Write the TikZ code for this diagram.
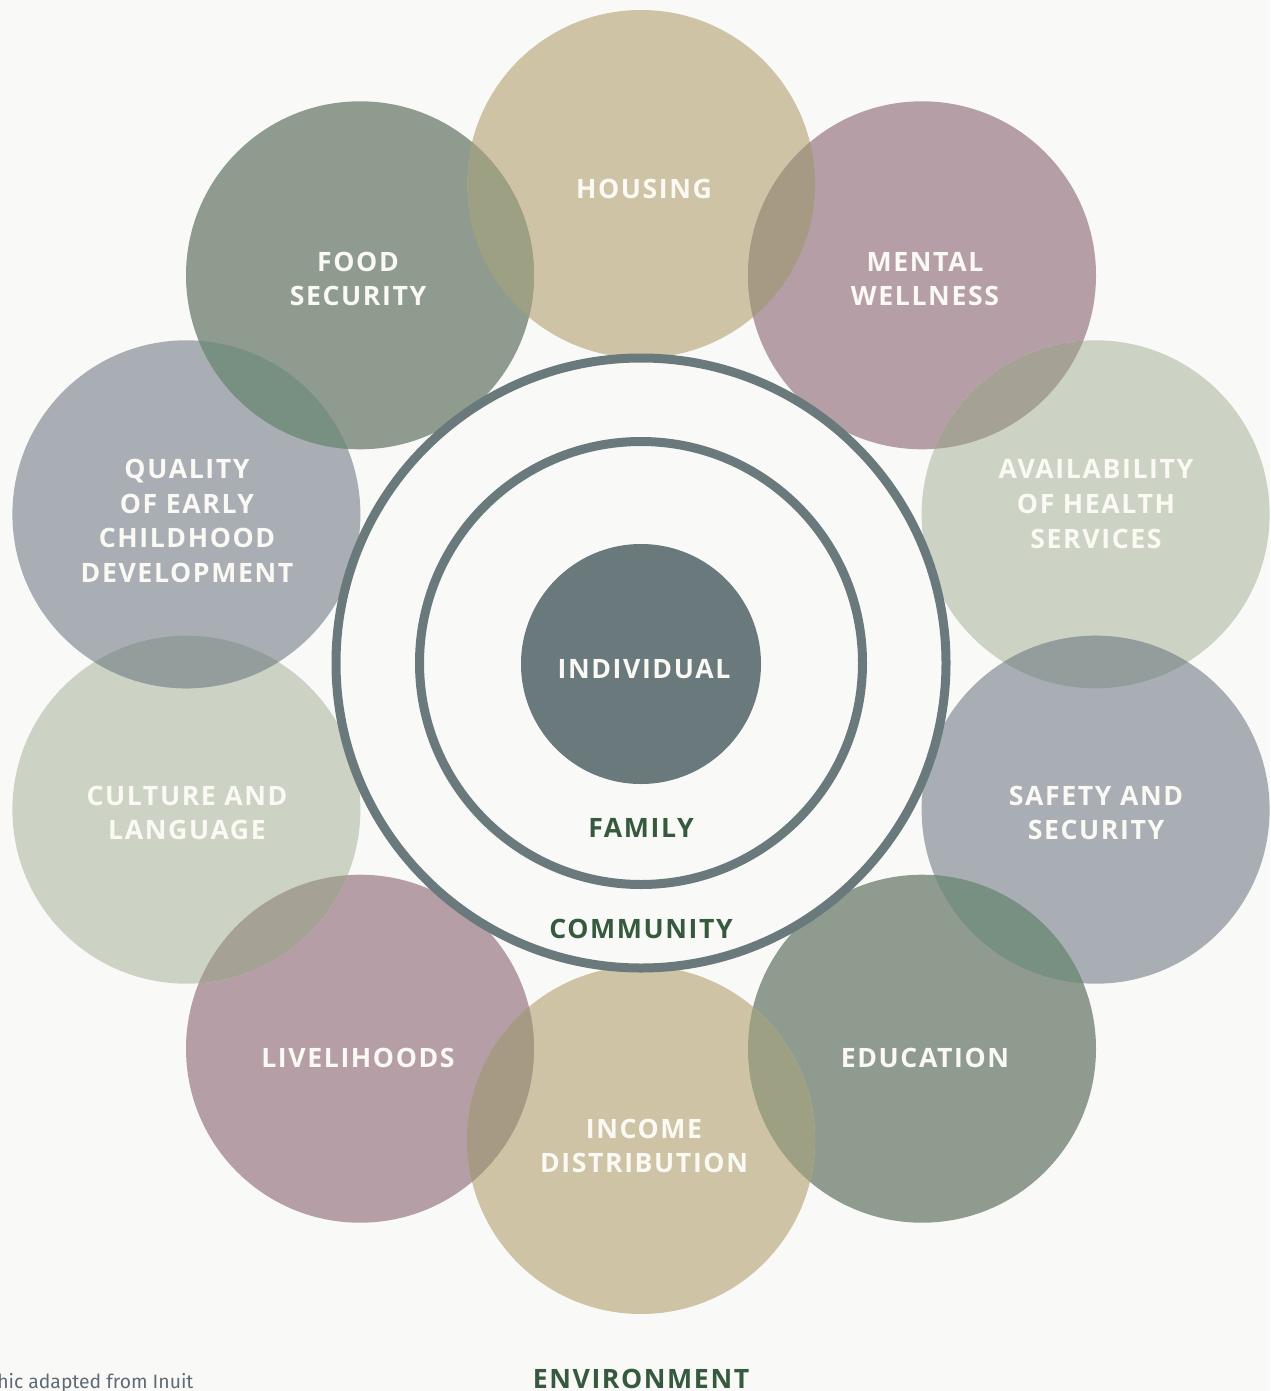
\documentclass[tikz,border=0pt]{standalone}
\usepackage{fontspec}
\newfontfamily\lab{Open Sans}[LetterSpace=6]
\newfontfamily\foot{Fira Sans}
\definecolor{bgc}{HTML}{F9FAF8}
\definecolor{housec}{HTML}{CFC3A6}
\definecolor{mauvec}{HTML}{B59EA5}
\definecolor{sagec}{HTML}{CDD3C4}
\definecolor{greyc}{HTML}{A8AEB4}
\definecolor{greenc}{HTML}{8F9B8E}
\definecolor{slatec}{HTML}{6A797B}
\definecolor{ovA}{HTML}{9EA083}
\definecolor{ovB}{HTML}{A69A84}
\definecolor{ovC}{HTML}{A5A194}
\definecolor{ovD}{HTML}{939E9C}
\definecolor{ovE}{HTML}{779082}
\definecolor{txtgreen}{HTML}{375A3F}
\definecolor{footc}{HTML}{5F6B74}
\definecolor{txtwhite}{HTML}{FAF9F4}
\newdimen\pxu
\pxu=0.75pt
\tikzset{
  petal/.style={circle, minimum size=348\pxu, inner sep=0pt, fill=#1},
  plabel/.style={text=txtwhite, font=\lab\bfseries\fontsize{20}{26}\selectfont, align=center, inner sep=0pt},
  glabel/.style={text=txtgreen, font=\lab\bfseries\fontsize{20}{26}\selectfont, inner sep=0pt},
  ring/.style={circle, draw=slatec, line width=9\pxu, fill=none, inner sep=0pt}
}
\begin{document}
\begin{tikzpicture}[x=0.75pt,y=-0.75pt]
\fill[bgc] (0,0) rectangle (1270,1391);
\useasboundingbox (0,0) rectangle (1270,1391);
% petal centres
\coordinate (p0) at (641,184);
\coordinate (p1) at (922.0,275.3);
\coordinate (p2) at (1095.6,514.3);
\coordinate (p3) at (1095.6,809.7);
\coordinate (p4) at (922.0,1048.7);
\coordinate (p5) at (641,1140);
\coordinate (p6) at (360.0,1048.7);
\coordinate (p7) at (186.4,809.7);
\coordinate (p8) at (186.4,514.3);
\coordinate (p9) at (360.0,275.3);
\node[petal=housec] (c0) at (p0) {};
\node[petal=mauvec] (c1) at (p1) {};
\node[petal=sagec] (c2) at (p2) {};
\node[petal=greyc] (c3) at (p3) {};
\node[petal=greenc] (c4) at (p4) {};
\node[petal=housec] (c5) at (p5) {};
\node[petal=mauvec] (c6) at (p6) {};
\node[petal=sagec] (c7) at (p7) {};
\node[petal=greyc] (c8) at (p8) {};
\node[petal=greenc] (c9) at (p9) {};
% overlaps
\foreach \a/\b/\c in {0/1/ovB,1/2/ovC,2/3/ovD,3/4/ovE,4/5/ovA,5/6/ovB,6/7/ovC,7/8/ovD,8/9/ovE,9/0/ovA}{
  \begin{scope}
    \clip (p\a) circle (174);
    \fill[\c] (p\b) circle (174);
  \end{scope}
}
% rings
\node[ring, minimum size=610\pxu] (community) at (641,663) {};
\node[ring, minimum size=443\pxu] (family) at (641,663) {};
\node[circle, fill=slatec, minimum size=240\pxu, inner sep=0pt] (individual) at (641,664) {};
% labels
\node[plabel] (l0) at (644,189) {HOUSING};
\node[plabel] (l1) at (925,279) {MENTAL\\WELLNESS};
\node[plabel] (l2) at (1096,504) {AVAILABILITY\\OF HEALTH\\SERVICES};
\node[plabel] (l3) at (1096,813) {SAFETY AND\\SECURITY};
\node[plabel] (l4) at (925,1058) {EDUCATION};
\node[plabel] (l5) at (644,1146) {INCOME\\DISTRIBUTION};
\node[plabel] (l6) at (358,1058) {LIVELIHOODS};
\node[plabel] (l7) at (187,813) {CULTURE AND\\LANGUAGE};
\node[plabel] (l8) at (187,521) {QUALITY\\OF EARLY\\CHILDHOOD\\DEVELOPMENT};
\node[plabel] (l9) at (358,279) {FOOD\\SECURITY};
\node[plabel] (lind) at (644,669) {INDIVIDUAL};
\node[glabel] (lfam) at (641,828) {FAMILY};
\node[glabel] (lcom) at (641,929) {COMMUNITY};
\node[glabel] (lenv) at (641,1379) {ENVIRONMENT};
\node[anchor=base west, inner sep=0pt, text=footc, font=\foot\fontsize{14.5}{16}\selectfont] (credit) at (-3,1388) {hic adapted from Inuit};
\end{tikzpicture}
\end{document}
